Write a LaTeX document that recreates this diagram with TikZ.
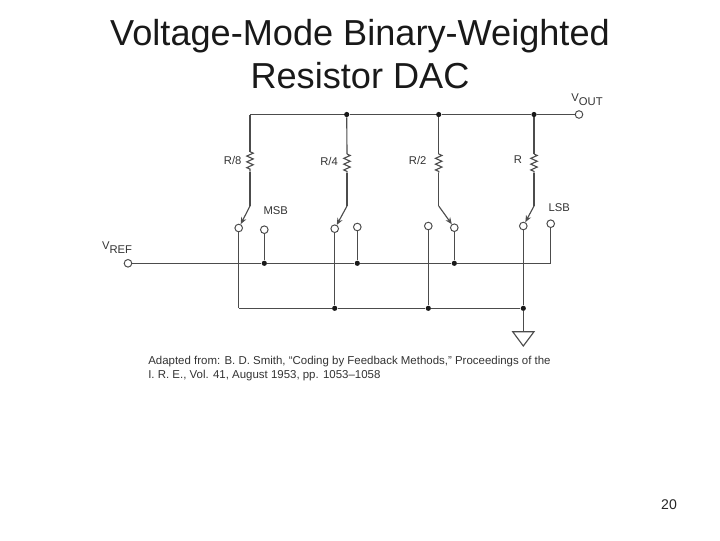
\documentclass[tikz,border=0pt]{standalone}
\usepackage{fontspec}
\setmainfont{Liberation Sans}
\usetikzlibrary{arrows.meta,decorations.pathmorphing}
\definecolor{wirecolor}{gray}{0.3}
\tikzset{
	wire/.style={color=wirecolor,line width=0.8pt},
	zig/.style={wire,decorate,decoration={zigzag,amplitude=0.08cm,segment length=0.145cm}},
	contact/.style={circle,draw=wirecolor,fill=white,line width=0.7pt,inner sep=0pt,minimum size=0.19cm},
	junction/.style={circle,fill=black!90,inner sep=0pt,minimum size=0.13cm},
	lbl/.style={inner sep=0pt,text=black!80,font=\fontsize{8}{9}\selectfont}
}
\begin{document}
\begin{tikzpicture}[x=0.025cm,y=-0.025cm]
	\useasboundingbox (0,0) rectangle (720,540);
	\node[inner sep=0pt,align=center,text=black!90,font=\fontsize{25.7}{30.6}\selectfont] (title) at (360,54.5) {Voltage-Mode Binary-Weighted\\Resistor DAC};
	\node[inner sep=0pt,text=black!85,font=\fontsize{10}{12}\selectfont] (page) at (669,505) {20};

	% top wire
	\coordinate (t8) at (250,114.5);
	\node[junction] (t4) at (346.7,114.5) {};
	\node[junction] (t2) at (438.7,114.5) {};
	\node[junction] (t1) at (534,114.5) {};
	\node[contact] (vout) at (579,114.5) {};
	\draw[wire] (t8) -- (t4) -- (t2) -- (t1) -- (vout);

	% reference bus
	\node[contact] (vref) at (128,263.3) {};
	\node[junction] (v8) at (264.3,263.3) {};
	\node[junction] (v4) at (357.3,263.3) {};
	\node[junction] (v2) at (454.3,263.3) {};
	\coordinate (v1) at (550.7,263.3);
	\draw[wire] (vref) -- (v8) -- (v4) -- (v2) -- (v1);

	% ground bus
	\coordinate (g8) at (238.7,308.3);
	\node[junction] (g4) at (334.7,308.3) {};
	\node[junction] (g2) at (428.3,308.3) {};
	\node[junction] (g1) at (523.3,308.3) {};
	\draw[wire] (g8) -- (g4) -- (g2) -- (g1);

	% switch contacts
	\foreach \n/\x/\y in {s8a/238.7/228,s8b/264.3/229.7,s4a/334.7/228.7,s4b/357.3/227,s2a/428.3/226,s2b/454.3/227.7,s1a/523.3/226,s1b/550.7/223.7}
		\node[contact] (\n) at (\x,\y) {};

	% contacts to the two buses
	\foreach \a/\b in {s8a/g8,s8b/v8,s4a/g4,s4b/v4,s2a/g2,s2b/v2,s1a/g1,s1b/v1}
		\draw[wire] (\a) -- (\b);

	% resistor legs
	\foreach \n/\tp/\x/\ya/\yb/\sw in {r8/t8/250/151.7/171.7/s8a,r4/t4/347/154/172.7/s4a,r2/t2/438.7/154/172.7/s2b,r1/t1/534/154/172.7/s1a}{
		\coordinate (\n a) at (\x,\ya);
		\coordinate (\n b) at (\x,\yb);
		\coordinate (\n k) at (\x,206);
		\draw[wire] (\tp) -- (\n a);
		\draw[zig] (\n a) -- (\n b);
		\draw[wire] (\n b) -- (\n k);
		\draw[wire,-{Stealth[length=0.17cm,width=0.14cm]}] (\n k) -- (\sw);
	}

	% ground symbol
	\coordinate (gl) at (512.7,331.7);
	\coordinate (gr) at (534,331.7);
	\coordinate (gt) at (523.3,346);
	\coordinate (gm) at (523.3,331.7);
	\draw[wire] (g1) -- (gm);
	\draw[wire,fill=white] (gl) -- (gr) -- (gt) -- cycle;

	% labels
	\node[lbl] (lr8) at (232.7,160) {R/8};
	\node[lbl] (lr4) at (329,161.7) {R/4};
	\node[lbl] (lr2) at (417.7,160.3) {R/2};
	\node[lbl] (lr1) at (518,160) {R};
	\node[lbl] (msb) at (275.7,210.7) {MSB};
	\node[lbl] (lsb) at (559.3,207.3) {LSB};
	\node[lbl] (lvref) at (117,248) {V\lower3pt\hbox{REF}};
	\node[lbl] (lvout) at (587,100) {V\lower3pt\hbox{OUT}};
	\node[lbl,align=left,anchor=north west,font=\fontsize{8.15}{9.9}\selectfont] (src) at (148,356) {Adapted from: B. D. Smith, “Coding by Feedback Methods,” Proceedings of the\\I. R. E., Vol. 41, August 1953, pp. 1053–1058};
\end{tikzpicture}
\end{document}
